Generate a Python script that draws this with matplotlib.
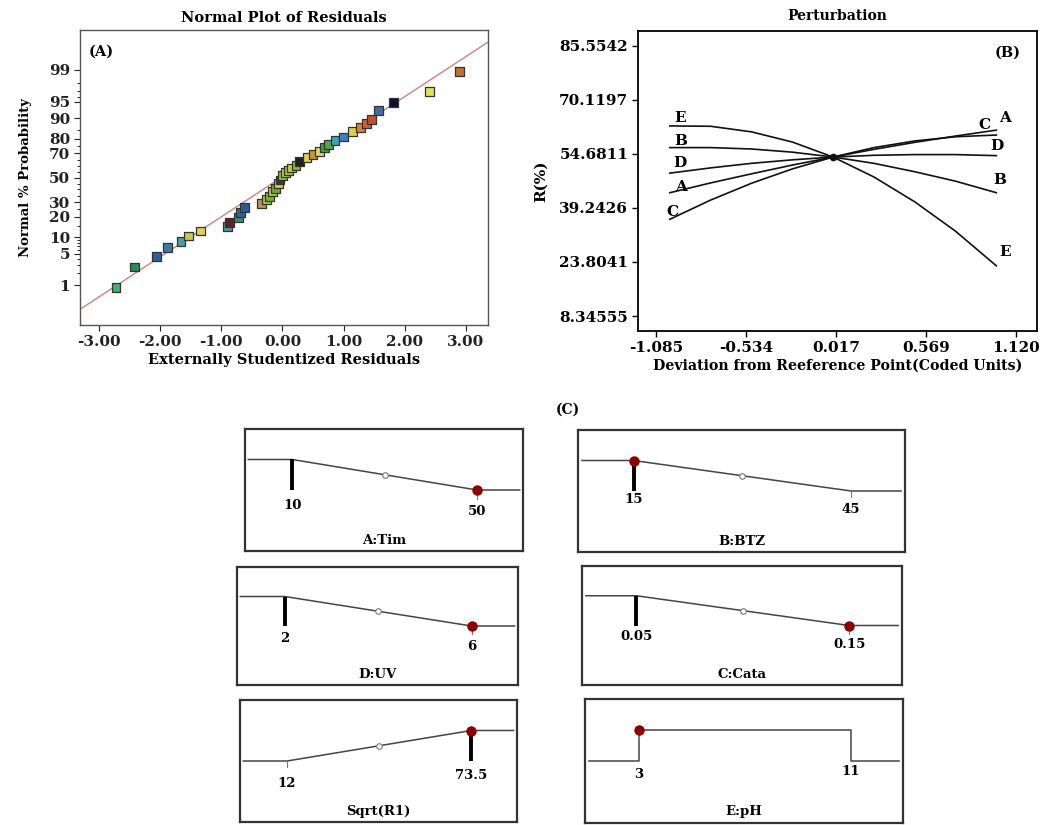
import matplotlib
matplotlib.use("Agg")
import matplotlib.pyplot as plt
import numpy as np
from statistics import NormalDist

plt.rcParams['font.family'] = ['DejaVu Serif']
plt.rcParams['font.weight'] = 'bold'

# ---- (A) normal plot of residuals ----
resid = [-2.72, -2.42, -2.06, -1.88, -1.66, -1.53, -1.34, -0.90, -0.87, -0.72,
         -0.69, -0.62, -0.34, -0.26, -0.21, -0.16, -0.11, -0.07, -0.04, 0.00,
         0.05, 0.10, 0.15, 0.22, 0.28, 0.40, 0.50, 0.60, 0.69, 0.75,
         0.86, 1.00, 1.15, 1.27, 1.37, 1.45, 1.57, 1.82, 2.41, 2.90]
prob = [0.9, 2.7, 4.5, 6.5, 8.4, 10.4, 12.5, 14.5, 16.6, 19.5,
        22.7, 25.8, 28.8, 31.9, 34.5, 38.0, 41.0, 45.0, 48.0, 51.6,
        54.4, 56.4, 58.3, 60.6, 64.0, 66.6, 69.0, 71.6, 74.2, 76.4,
        78.8, 81.0, 83.9, 86.2, 87.9, 89.6, 92.6, 94.8, 96.9, 98.9]
pt_colors = ['#3cb371', '#2e8b57', '#2f5fa0', '#3a7fa0', '#48a0a0', '#c8c850', '#e0d060', '#4a9a9a', '#602020', '#3a8a70',
             '#3060a0', '#2a5a9a', '#c09050', '#a8c840', '#80b030', '#b0d040', '#70a830', '#d0d040', '#304020', '#90c040',
             '#b8d040', '#a0c838', '#c8d048', '#88b838', '#202020', '#e0d050', '#d09040', '#e0d860', '#40a040', '#50a848',
             '#40a0c0', '#4080c0', '#e0d040', '#e08030', '#d06030', '#c05030', '#4070a0', '#101030', '#e0e060', '#c07030']
line_x = [-3.30, 3.36]
line_p = [0.23, 99.83]
prob_ticks = [1, 5, 10, 20, 30, 50, 70, 80, 90, 95, 99]
prob_minor = [2, 3, 4, 6, 7, 8, 9, 15, 25, 35, 40, 45, 55, 60, 65, 75, 85, 96, 97, 98]
resid_ticks = [-3, -2, -1, 0, 1, 2, 3]

# ---- (B) perturbation ----
dev_x = [-1.0, -0.75, -0.5, -0.25, 0.0, 0.25, 0.5, 0.75, 1.0]
pert = {
    'A': [43.6, 46.4, 49.0, 51.5, 53.8, 56.0, 58.0, 59.8, 61.5],
    'B': [56.5, 56.5, 56.1, 55.2, 53.8, 52.0, 49.6, 46.9, 43.6],
    'C': [36.0, 41.5, 46.3, 50.4, 53.8, 56.5, 58.4, 59.6, 60.1],
    'D': [49.2, 50.7, 52.0, 53.0, 53.8, 54.3, 54.5, 54.5, 54.2],
    'E': [62.7, 62.6, 61.0, 58.1, 53.8, 48.1, 41.0, 32.6, 22.7],
}
pert_ticks_y = [85.5542, 70.1197, 54.6811, 39.2426, 23.8041, 8.34555]
pert_ticklab_y = ['85.5542', '70.1197', '54.6811', '39.2426', '23.8041', '8.34555']
pert_ticks_x = [-1.085, -0.534, 0.017, 0.569, 1.120]
pert_ticklab_x = ['-1.085', '-0.534', '0.017', '0.569', '1.120']
# label positions (x, y) for curve letters: left and right ends
lab_left = {'E': (-0.97, 64.9), 'B': (-0.97, 58.5), 'D': (-0.98, 52.2), 'A': (-0.97, 45.3), 'C': (-1.02, 38.2)}
lab_right = {'C': (0.89, 63.0), 'A': (1.02, 64.9), 'D': (0.96, 57.0), 'B': (0.98, 47.2), 'E': (1.02, 26.7)}

# ---- (C) desirability ramps ----
ramp_names = ['A:Tim', 'B:BTZ', 'D:UV', 'C:Cata', 'Sqrt(R1)', 'E:pH']
ramp_low = [10, 15, 2, 0.05, 12, 3]
ramp_high = [50, 45, 6, 0.15, 73.5, 11]
ramp_low_text = ['10', '15', '2', '0.05', '12', '3']
ramp_high_text = ['50', '45', '6', '0.15', '73.5', '11']
ramp_setting = [50, 15, 6, 0.15, 73.5, 3]
ramp_bar = [10, 15, 2, 0.05, 73.5, None]
ramp_shape = ['down', 'down', 'down', 'down', 'up', 'step']

# layout in pixels: left, right, top, bottom
W, H = 1051, 825
box_px = [(245, 523, 429, 551), (578, 905, 430, 552), (237, 518, 567, 685),
          (582, 902, 566, 685), (240, 517, 700, 822), (585, 903, 699, 823)]
label_y = [(0.376, 0.32), (0.43, 0.348), (0.394, 0.33), (0.41, 0.344), (0.317, 0.385), (0.39, 0.417)]


def px_axes(l, r, t, b):
    return fig.add_axes([l / W, 1 - b / H, (r - l) / W, (b - t) / H])


fig = plt.figure(figsize=(10.51, 8.25), dpi=100)

# ---------------- panel A ----------------
axA = px_axes(80, 488, 30, 325)
nd = NormalDist()
z = [nd.inv_cdf(p / 100) for p in prob]
zl = [nd.inv_cdf(p / 100) for p in line_p]
axA.plot(line_x, zl, color='#d08080', lw=1.0, zorder=1)
axA.scatter(resid, z, marker='s', s=40, c=pt_colors, edgecolors='#333333', linewidths=0.9, zorder=3)
axA.set_xlim(-3.31, 3.36)
axA.set_ylim(-3.18, 3.19)
axA.set_yticks([nd.inv_cdf(p / 100) for p in prob_ticks])
axA.set_yticklabels([str(p) for p in prob_ticks], fontsize=11)
axA.set_yticks([nd.inv_cdf(p / 100) for p in prob_minor], minor=True)
axA.set_xticks(resid_ticks)
axA.set_xticklabels(['%.2f' % v for v in resid_ticks], fontsize=11)
axA.tick_params(direction='out', length=4, width=0.8, colors='#222222', pad=3)
axA.tick_params(which='minor', length=2, width=0.6)
for s in axA.spines.values():
    s.set_color('#555555')
    s.set_linewidth(1.0)
axA.set_title('Normal Plot of Residuals', fontsize=10.5, fontweight='bold', pad=6)
axA.set_xlabel('Externally Studentized Residuals', fontsize=10.5, fontweight='bold', labelpad=3)
axA.set_ylabel('Normal % Probability', fontsize=9.5, fontweight='bold', labelpad=12)
axA.text(0.02, 0.95, '(A)', transform=axA.transAxes, fontsize=10.5, fontweight='bold', va='top')

# ---------------- panel B ----------------
axB = px_axes(638, 1037, 31, 331)
for k, vals in pert.items():
    axB.plot(dev_x, vals, color='#111111', lw=1.2)
axB.plot([0], [53.8], 'o', color='#111111', ms=4.5)
for k, (x, y) in lab_left.items():
    axB.text(x, y, k, fontsize=11, fontweight='bold', ha='left', va='center')
for k, (x, y) in lab_right.items():
    axB.text(x, y, k, fontsize=11, fontweight='bold', ha='left', va='center')
axB.set_xlim(-1.195, 1.249)
axB.set_ylim(4.06, 89.84)
axB.set_yticks(pert_ticks_y)
axB.set_yticklabels(pert_ticklab_y, fontsize=11)
axB.set_xticks(pert_ticks_x)
axB.set_xticklabels(pert_ticklab_x, fontsize=11)
axB.tick_params(direction='out', length=4, width=1.0, pad=3)
for s in axB.spines.values():
    s.set_linewidth(1.3)
axB.set_title('Perturbation', fontsize=10, fontweight='bold', pad=8)
axB.set_xlabel('Deviation from Reeference Point(Coded Units)', fontsize=10.2, fontweight='bold', labelpad=3)
axB.set_ylabel('R(%)', fontsize=11, fontweight='bold', labelpad=8)
axB.text(0.96, 0.95, '(B)', transform=axB.transAxes, fontsize=10.5, fontweight='bold', va='top', ha='right')

# ---------------- panel C ----------------
fig.text(568 / W, 1 - 410 / H, '(C)', fontsize=10, fontweight='bold', ha='center', va='center')
TOP, BOT = 0.75, 0.5
for i, name in enumerate(ramp_names):
    ax = px_axes(*box_px[i])
    lo, hi = ramp_low[i], ramp_high[i]
    span = hi - lo
    x0 = lo - 0.17 / 0.665 * span
    x1 = hi + 0.165 / 0.665 * span
    ax.set_xlim(x0, x1)
    ax.set_ylim(0, 1)
    e0 = x0 + 0.012 * (x1 - x0)
    e1 = x1 - 0.012 * (x1 - x0)
    shape = ramp_shape[i]
    if shape == 'down':
        xs, ys = [e0, lo, hi, e1], [TOP, TOP, BOT, BOT]
    elif shape == 'up':
        xs, ys = [e0, lo, hi, e1], [BOT, BOT, TOP, TOP]
    else:
        xs, ys = [e0, lo, lo, hi, hi, e1], [BOT, BOT, TOP, TOP, BOT, BOT]
    ax.plot(xs, ys, color='#444444', lw=1.1, zorder=2)

    def yat(x):
        if shape == 'step':
            return TOP
        return float(np.interp(x, [lo, hi], [ys[1], ys[2]]))

    if shape != 'step':
        mid = (lo + hi) / 2
        ax.plot([mid], [yat(mid)], 'o', ms=4, mfc='white', mec='#777777', mew=0.8, zorder=3)
    # thick bar
    if ramp_bar[i] is not None:
        ax.plot([ramp_bar[i], ramp_bar[i]], [TOP, BOT], color='black', lw=2.8, zorder=3,
                solid_capstyle='butt')
    # thin ticks at ends without bar / dot
    for v in (lo, hi):
        if shape != 'step' and v != ramp_bar[i] and v != ramp_setting[i]:
            ax.plot([v, v], [yat(v), yat(v) - 0.05], color='#777777', lw=0.8, zorder=2)
    # red setting dot
    sv = ramp_setting[i]
    ax.plot([sv], [yat(sv)], 'o', ms=6.5, color='#8b0000', zorder=4)
    if sv != ramp_bar[i]:
        ax.plot([sv, sv], [yat(sv) - 0.03, yat(sv) - 0.07], color='#c06060', lw=0.8, zorder=3)
    ax.text(lo, label_y[i][0], ramp_low_text[i], fontsize=9.5, fontweight='bold', ha='center', va='center')
    ax.text(hi, label_y[i][1], ramp_high_text[i], fontsize=9.5, fontweight='bold', ha='center', va='center')
    ax.text((x0 + x1) / 2, 0.09, name, fontsize=9.5, fontweight='bold', ha='center', va='center')
    ax.set_xticks([])
    ax.set_yticks([])
    for s in ax.spines.values():
        s.set_color('#333333')
        s.set_linewidth(1.6)

fig.savefig('out.png', dpi=100)
